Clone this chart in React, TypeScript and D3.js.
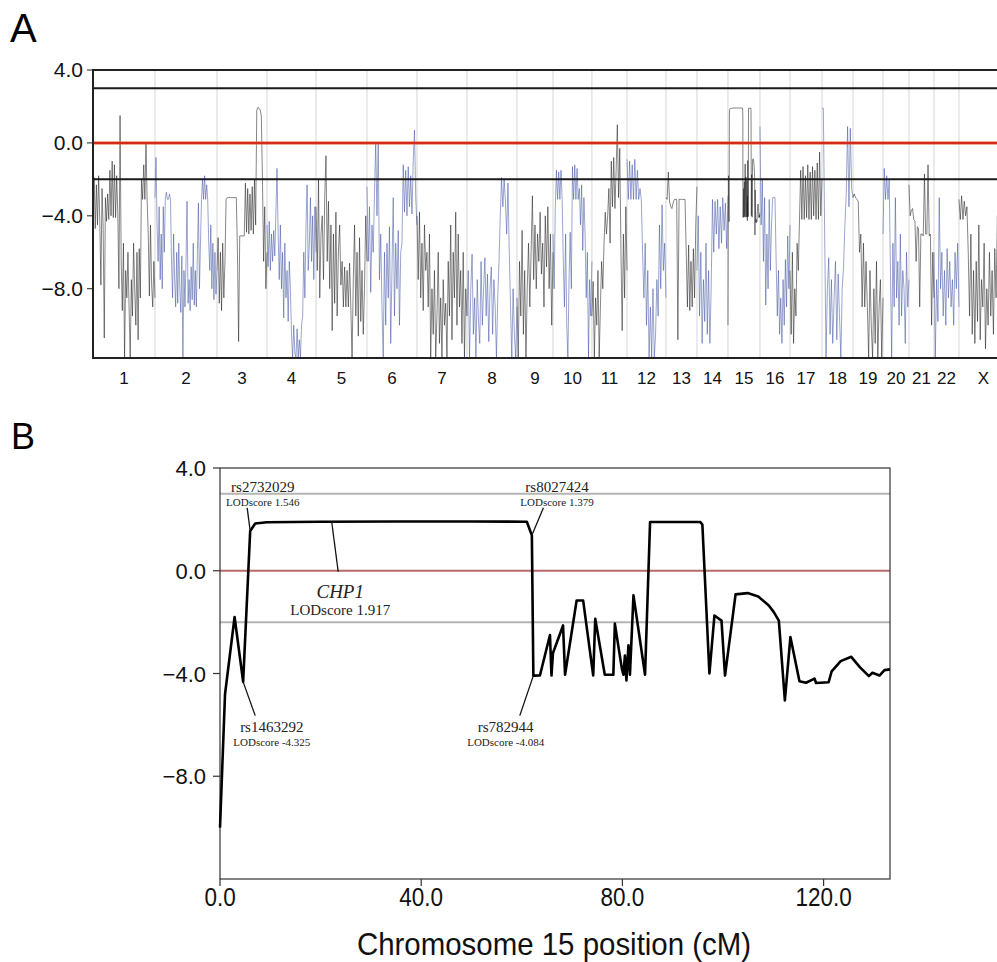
import * as d3 from "d3";

// ---- panel A: genome-wide LOD trace ----
const chrLabels = ["1", "2", "3", "4", "5", "6", "7", "8", "9", "10", "11", "12", "13", "14", "15", "16", "17", "18", "19", "20", "21", "22", "X"];
const chrLengths = [258, 258, 208, 204, 212, 208, 208, 208, 150, 162, 146, 162, 129, 129, 133.2, 125, 133, 129, 125, 108, 104, 104, 204];

const chr1 = [-3.5, -1.9, -4.7, -2.3, -4.5, -1.8, -4.2, -7.8, -2.5, -4.6, -10.7, -3.0, -4.3, -2.8, -4.2, -1.5, -4.0, -1.0, -4.1, -1.2, -4.1, -1.8, -3.9, -8.0, 1.5, -6.5, -9.2, -5.5, -11.8, -7.0, -8.5, -6.0, -9.0, -11.8, -7.5, -9.5, -5.5, -8.0, -10.0, -6.0, -10.8, -5.8, -8.5, -2.0, -3.1, -1.2, -3.1, 0.0, -3.1, -5.0, -8.4, -4.5, -7.8, -9.0, -6.5, -8.5];
const chr2 = [-3.0, -0.8, -4.5, -6.5, -3.5, -7.5, -5.0, -8.0, -3.5, -6.0, -3.1, -2.7, -3.1, -3.1, -2.8, -3.1, -6.5, -8.5, -5.0, -7.5, -9.0, -6.0, -8.8, -5.5, -8.0, -9.3, -6.2, -11.8, -7.0, -9.0, -6.5, -3.2, -8.8, -7.5, -9.2, -6.8, -8.6, -5.5, -8.9, -7.0, -9.0, -6.0, -3.3, -8.0, -5.5, -3.1, -2.0, -3.1, -1.8, -3.1, -2.3, -3.1, -5.5, -7.0, -4.5, -8.0, -5.5, -8.6, -6.0, -8.3, -7.0];
const chr3 = [-7.0, -5.2, -8.8, -6.0, -9.2, -5.5, -8.5, -6.5, -3.1, -3.0, -3.0, -3.0, -3.0, -3.0, -3.0, -3.0, -3.0, -3.0, -6.0, -10.9, -5.1, -5.1, -5.1, -5.1, -5.1, -2.2, -4.9, -2.5, -5.0, -2.8, -4.8, -2.4, -5.0, -2.0, -4.5, 1.8, 1.95, 1.9, 1.8, 1.5, -2.0, -6.5, -3.5, -8.0, -6.0];
const chr4 = [-4.5, -6.8, -4.3, -7.0, -5.0, -6.5, -4.8, -6.2, -3.8, -1.4, -5.0, -7.5, -4.5, -8.0, -6.0, -9.6, -5.5, -8.5, -7.0, -9.8, -6.5, -8.0, -10.5, -11.8, -10.0, -11.5, -11.8, -10.2, -11.8, -10.8, -11.8, -10.0, -9.5, -6.0, -8.5, -4.5, -2.3, -7.0, -5.5, -3.0, -6.5, -4.0, -7.5, -3.5, -6.0];
const chr5 = [-3.5, -7.0, -2.0, -8.5, -5.0, -4.0, -7.5, -3.0, -0.7, -6.5, -3.2, -8.0, -4.5, -10.3, -5.0, -8.8, -3.8, -9.5, -6.0, -4.5, -7.8, -6.5, -9.0, -6.8, -9.0, -7.0, -9.0, -6.6, -9.0, -11.8, -7.5, -4.5, -9.5, -6.0, -10.6, -5.2, -9.8, -7.0, -10.5, -8.0, -4.0, -6.5];
const chr6 = [-2.4, -6.5, -3.5, -8.2, -4.5, -6.0, -2.8, 0.0, -4.0, 0.0, -7.5, -5.0, -9.0, -11.8, -6.0, -10.0, -5.5, -8.5, -4.6, -11.0, -7.0, -3.0, -9.5, -5.5, -8.0, -4.8, -10.0, -6.0, -5.5, -1.2, -3.8, -1.5, -4.0, -1.3, -3.5, -1.8, -3.9, -1.0, 0.7, -3.0, -4.5];
const chr7 = [-4.0, -7.5, -3.8, -8.5, -5.5, -9.2, -4.5, -7.0, -6.0, -9.0, -5.0, -11.8, -8.0, -10.5, -7.0, -11.8, -9.5, -6.0, -11.0, -8.5, -11.8, -7.5, -10.0, -8.8, -11.8, -6.5, -9.5, -4.5, -10.8, -6.0, -8.5, -3.8, -10.0, -5.0, -9.0, -7.0, -11.0, -6.0, -11.8, -8.0, -9.5];
const chr8 = [-9.5, -7.0, -11.8, -8.0, -6.1, -10.5, -8.5, -11.8, -7.5, -9.8, -11.0, -6.5, -10.0, -8.0, -6.3, -9.5, -7.2, -10.9, -8.0, -6.8, -10.5, -7.5, -9.0, -11.8, -8.5, -6.5, -4.0, -1.9, -3.5, -2.0, -3.2, -5.0, -2.2, -6.0, -9.0, -11.8, -8.0, -10.5, -11.8, -9.0];
const chr9 = [-8.5, -11.8, -6.5, -9.5, -4.8, -10.5, -7.0, -11.8, -8.0, -5.5, -9.0, -6.0, -2.9, -7.5, -4.5, -8.0, -5.0, -6.5, -3.8, -7.2, -5.5, -9.0, -4.0, -6.8, -3.5, -8.0, -5.0, -10.0, -6.0];
const chr10 = [-5.0, -8.0, -3.5, -1.5, -3.1, -1.6, -3.1, -1.5, -3.1, -6.5, -9.0, -5.0, -10.0, -11.8, -7.5, -4.9, -8.0, -1.3, -3.1, -1.2, -3.1, -1.4, -3.1, -2.5, -4.5, -2.3, -5.9, -3.0, -5.0, -8.5, -6.0, -11.8, -7.5, -9.5, -6.5];
const chr11 = [-9.5, -7.6, -11.8, -8.5, -10.0, -7.0, -11.8, -9.0, -6.5, -8.0, -5.5, -3.8, -5.0, -4.0, -2.5, -5.5, -1.0, -3.5, -0.8, -3.6, -1.5, 1.0, -3.0, -0.3, -6.0, -10.3, -5.0, -8.5, -3.5, -7.0];
const chr12 = [-0.9, -3.1, -1.0, -3.1, -1.2, -3.1, -0.9, -3.1, -1.5, -3.1, -2.5, -3.1, -6.0, -8.5, -5.5, -10.0, -7.0, -11.8, -9.0, -11.8, -8.0, -11.8, -10.5, -7.5, -9.5, -4.5, -8.0, -3.4, -7.0, -5.5, -8.5];
const chr13 = [-3.0, -3.1, -1.6, -3.2, -3.5, -3.6, -3.3, -3.1, -3.1, -3.1, -10.8, -3.1, -3.1, -3.1, -3.1, -3.1, -3.1, -6.0, -9.0, -5.6, -9.2, -6.5, -9.0, -5.8, -8.5, -4.5, -2.4];
const chr14 = [-7.0, -4.0, -9.5, -6.0, -11.0, -7.5, -9.8, -5.5, -10.5, -7.0, -11.0, -8.0, -3.1, -6.0, -3.2, -5.0, -3.1, -5.8, -3.5, -5.5, -3.0, -4.8, -3.3, -5.8, -2.9];
const chr16 = [0.9, -4.5, -2.0, -6.5, -3.0, -8.9, -5.0, -8.0, -3.1, -7.0, -4.5, -3.0, -3.0, -3.0, -6.5, -9.5, -7.0, -10.5, -8.5, -11.0, -7.5, -10.0, -6.4, -9.0, -5.1, -8.0, -4.5];
const chr17 = [-7.0, -10.5, -6.0, -11.0, -8.0, -9.5, -5.5, -7.0, -4.2, -1.5, -4.2, -1.3, -4.2, -1.8, -4.1, -1.2, -4.2, -1.6, -4.2, -1.3, -4.0, -1.5, -4.2, -1.1, -4.2, -0.5, -4.0, -2.0];
const chr18 = [1.9, 1.9, -5.0, -11.8, -8.0, -6.3, -10.5, -7.5, -11.0, -8.5, -6.5, -10.8, -7.2, -9.5, -11.8, -8.0, -6.8, -4.5, -2.8, 0.9, -3.5, 0.8, -2.5, -3.0];
const chr19 = [-3.0, -2.8, -3.0, -3.1, -3.2, -6.0, -5.0, -9.0, -5.5, -9.0, -6.5, -9.0, -11.8, -7.0, -10.0, -11.8, -8.0, -11.0, -6.5, -11.8, -9.0, -7.5, -11.8, -8.5];
const chr20 = [-5.0, -1.4, -3.1, -1.8, -3.1, -2.0, -7.0, -11.8, -5.5, -9.0, -3.0, -8.5, -6.5, -10.0, -5.0, -9.5, -7.0, -8.0, -11.0, -6.0, -9.0, -7.5];
const chr21 = [-2.3, -4.0, -3.7, -3.6, -4.2, -4.3, -6.5, -4.6, -4.7, -9.0, -5.0, -5.0, -5.1, -1.7, -5.0, -5.0, -1.2, -5.1, -5.0, -10.0, -6.0, -8.5];
const chr22 = [-6.0, -11.8, -7.5, -9.8, -3.0, -8.0, -6.0, -9.5, -7.0, -10.0, -5.8, -8.5, -6.5, -9.0, -7.5, -10.0, -6.0, -8.0, -5.5, -9.0];
const chrX = [-3.1, -4.2, -2.9, -4.2, -3.2, -4.0, -3.5, -6.0, -9.5, -5.0, -10.5, -7.0, -11.0, -6.5, -9.8, -4.5, -10.8, -7.5, -9.0, -5.5, -11.3, -8.0, -10.0, -6.0, -9.5, -7.0, -10.5, -5.8, -8.5, -4.0, -9.0, -3.8, -4.0, -3.8, -6.5, -9.0, -5.0, -8.0];

// ---- panel B: chromosome 15 ----
const chr15Pos = [0, 1.0, 2.9, 4.6, 6.0, 7.0, 9.3, 20, 35, 50, 61.0, 62.0, 62.3, 63.6, 65.6, 65.9, 66.2, 68.2, 68.6, 70.9, 72.2, 74.2, 74.6, 76.5, 78.2, 78.5, 79.9, 80.2, 80.5, 80.8, 81.2, 81.5, 82.2, 84.5, 85.5, 95.5, 95.9, 97.3, 98.3, 99.7, 100.4, 102.5, 104.9, 107.0, 109.1, 110.1, 111.1, 112.3, 113.4, 115.2, 116.5, 118.2, 118.5, 121.0, 121.6, 123.4, 125.5, 127.2, 129.0, 129.7, 131.1, 132.1, 133.2];
const chr15Lod = [-10.0, -4.8, -1.8, -4.325, 1.546, 1.84, 1.89, 1.91, 1.917, 1.917, 1.91, 1.379, -4.084, -4.08, -2.5, -4.08, -3.2, -2.13, -4.05, -1.16, -1.16, -4.08, -1.87, -4.05, -4.05, -2.06, -3.82, -4.05, -3.3, -4.27, -2.9, -4.05, -0.96, -4.05, 1.9, 1.9, 1.79, -4.0, -1.74, -1.94, -4.08, -0.92, -0.87, -1.0, -1.35, -1.61, -1.94, -5.05, -2.58, -4.3, -4.36, -4.2, -4.37, -4.34, -3.92, -3.52, -3.35, -3.75, -4.1, -3.97, -4.08, -3.87, -3.84];

const yTicks = [4, 0, -4, -8];
const xTicksB = [0, 40, 80, 120];
const thresholds = [3, -2];

const markers = [
  { name: "rs2732029", score: "LODscore 1.546", cm: 6.0, lod: 1.546, tx: 8.5, ty: 3.05, lx: 5.4, ly: 2.45 },
  { name: "rs8027424", score: "LODscore 1.379", cm: 62.0, lod: 1.379, tx: 67.0, ty: 3.05, lx: 64.3, ly: 2.45 },
  { name: "rs1463292", score: "LODscore -4.325", cm: 4.6, lod: -4.325, tx: 10.3, ty: -6.28, lx: 7.0, ly: -5.64 },
  { name: "rs782944", score: "LODscore -4.084", cm: 62.3, lod: -4.084, tx: 56.8, ty: -6.28, lx: 59.6, ly: -5.64 },
];
const gene = { name: "CHP1", score: "LODscore 1.917", cm: 22.2, lod: 1.917, tx: 23.9, ty: -1.06, lx: 23.5, ly: -0.04 };

const SANS = "'Liberation Sans', Arial, Helvetica, sans-serif";
const SERIF = "'Liberation Serif', 'Times New Roman', serif";

export default function App() {
  const chrData = [chr1, chr2, chr3, chr4, chr5, chr6, chr7, chr8, chr9, chr10, chr11, chr12, chr13, chr14, chr15Lod, chr16, chr17, chr18, chr19, chr20, chr21, chr22, chrX];
  const starts = [0, ...d3.cumsum(chrLengths)];
  const total = starts[starts.length - 1];

  const xA = d3.scaleLinear().domain([0, total]).range([93, 1008]);
  const yA = d3.scaleLinear().domain([-11.8, 4]).range([358, 70]);
  const lineA = d3.line<[number, number]>().x((d) => xA(d[0])).y((d) => yA(d[1]));

  const traces = chrData.map((vals, i) => {
    const len = chrLengths[i];
    const pts: [number, number][] = vals.map((v, j) => {
      const p = i === 14 ? (chr15Pos[j] / 133.2) * len : (j / (vals.length - 1)) * len;
      return [starts[i] + p, v];
    });
    return lineA(pts) as string;
  });

  const xB = d3.scaleLinear().domain([0, 133.2]).range([220, 890]);
  const yB = d3.scaleLinear().domain([-12, 4]).range([879, 468]);
  const lineB = d3.line<number>().x((d, i) => xB(chr15Pos[i])).y((d) => yB(d));
  const fmt = d3.format(".1f");

  return (
    <svg width={997} height={962} style={{ position: "absolute", left: 0, top: 0, background: "#fff" }}>
      <defs>
        <clipPath id="clipA">
          <rect x={93} y={70} width={915} height={288} />
        </clipPath>
      </defs>
      <text x={10} y={42} fontFamily={SANS} fontSize={40}>A</text>
      <text x={11} y={449} fontFamily={SANS} fontSize={36}>B</text>

      {/* panel A */}
      <g>
        {starts.slice(1, -1).map((s, i) => (
          <line key={i} x1={xA(s)} x2={xA(s)} y1={70} y2={358} stroke="#d6d6d6" strokeWidth={1} />
        ))}
        <g clipPath="url(#clipA)">
          {traces.map((d, i) => (
            <path key={i} d={d} fill="none" stroke={i % 2 === 0 ? "#1e1e1e" : "#33479e"}
              strokeOpacity={i % 2 === 0 ? 0.6 : 0.55} strokeWidth={0.9} />
          ))}
        </g>
        {thresholds.map((t) => (
          <line key={t} x1={93} x2={997} y1={yA(t)} y2={yA(t)} stroke="#1a1a1a" strokeWidth={2} />
        ))}
        <line x1={93} x2={997} y1={yA(0)} y2={yA(0)} stroke="#f08a3a" strokeWidth={4} strokeOpacity={0.35} />
        <line x1={93} x2={997} y1={yA(0)} y2={yA(0)} stroke="#d42a1c" strokeWidth={2.5} />
        <line x1={93} x2={997} y1={70} y2={70} stroke="#222" strokeWidth={2} />
        <line x1={93} x2={997} y1={358} y2={358} stroke="#222" strokeWidth={2} />
        <line x1={93} x2={93} y1={69} y2={359} stroke="#222" strokeWidth={2} />
        {yTicks.map((t) => (
          <g key={t}>
            <line x1={87} x2={93} y1={yA(t)} y2={yA(t)} stroke="#222" strokeWidth={1} />
            <text x={83} y={yA(t) + 7} textAnchor="end" fontFamily={SANS} fontSize={21} fill="#111">{fmt(t)}</text>
          </g>
        ))}
        {chrLabels.map((c, i) => (
          <text key={c} x={xA(starts[i] + chrLengths[i] / 2)} y={384} textAnchor="middle" fontFamily={SANS} fontSize={17} fill="#111">{c}</text>
        ))}
      </g>

      {/* panel B */}
      <g>
        {thresholds.map((t) => (
          <line key={t} x1={220} x2={890} y1={yB(t)} y2={yB(t)} stroke="#b4b4b4" strokeWidth={2} />
        ))}
        <line x1={220} x2={890} y1={yB(0)} y2={yB(0)} stroke="#b86a6a" strokeWidth={2} />
        <rect x={220} y={yB(4)} width={670} height={yB(-12) - yB(4)} fill="none" stroke="#333" strokeWidth={1.2} />
        <path d={lineB(chr15Lod) as string} fill="none" stroke="#000" strokeWidth={2.6} strokeLinejoin="round" />
        {yTicks.map((t) => (
          <g key={t}>
            <line x1={213} x2={220} y1={yB(t)} y2={yB(t)} stroke="#333" strokeWidth={1.2} />
            <text x={206} y={yB(t) + 8} textAnchor="end" fontFamily={SANS} fontSize={22} fill="#111">{fmt(t)}</text>
          </g>
        ))}
        {xTicksB.map((t) => (
          <g key={t}>
            <line x1={xB(t)} x2={xB(t)} y1={879} y2={886} stroke="#333" strokeWidth={1.2} />
            <text transform={`translate(${xB(t)},906) scale(0.9,1)`} textAnchor="middle" fontFamily={SANS} fontSize={25} fill="#111">{fmt(t)}</text>
          </g>
        ))}
        <text transform="translate(554,955) scale(0.95,1)" textAnchor="middle" fontFamily={SANS} fontSize={31} fill="#111">Chromosome 15 position (cM)</text>

        {markers.map((m) => (
          <g key={m.name}>
            <line x1={xB(m.lx)} y1={yB(m.ly)} x2={xB(m.cm)} y2={yB(m.lod)} stroke="#111" strokeWidth={1.3} />
            <text x={xB(m.tx)} y={yB(m.ty)} textAnchor="middle" fontFamily={SERIF} fontSize={15} fill="#222">{m.name}</text>
            <text x={xB(m.tx)} y={yB(m.ty) + 14} textAnchor="middle" fontFamily={SERIF} fontSize={11} fill="#222">{m.score}</text>
          </g>
        ))}
        <line x1={xB(gene.lx)} y1={yB(gene.ly)} x2={xB(gene.cm)} y2={yB(gene.lod)} stroke="#111" strokeWidth={1.3} />
        <text x={xB(gene.tx)} y={yB(gene.ty)} textAnchor="middle" fontFamily={SERIF} fontStyle="italic" fontSize={19} fill="#222">{gene.name}</text>
        <text x={xB(gene.tx)} y={yB(gene.ty) + 17} textAnchor="middle" fontFamily={SERIF} fontSize={15} fill="#222">{gene.score}</text>
      </g>
    </svg>
  );
}
